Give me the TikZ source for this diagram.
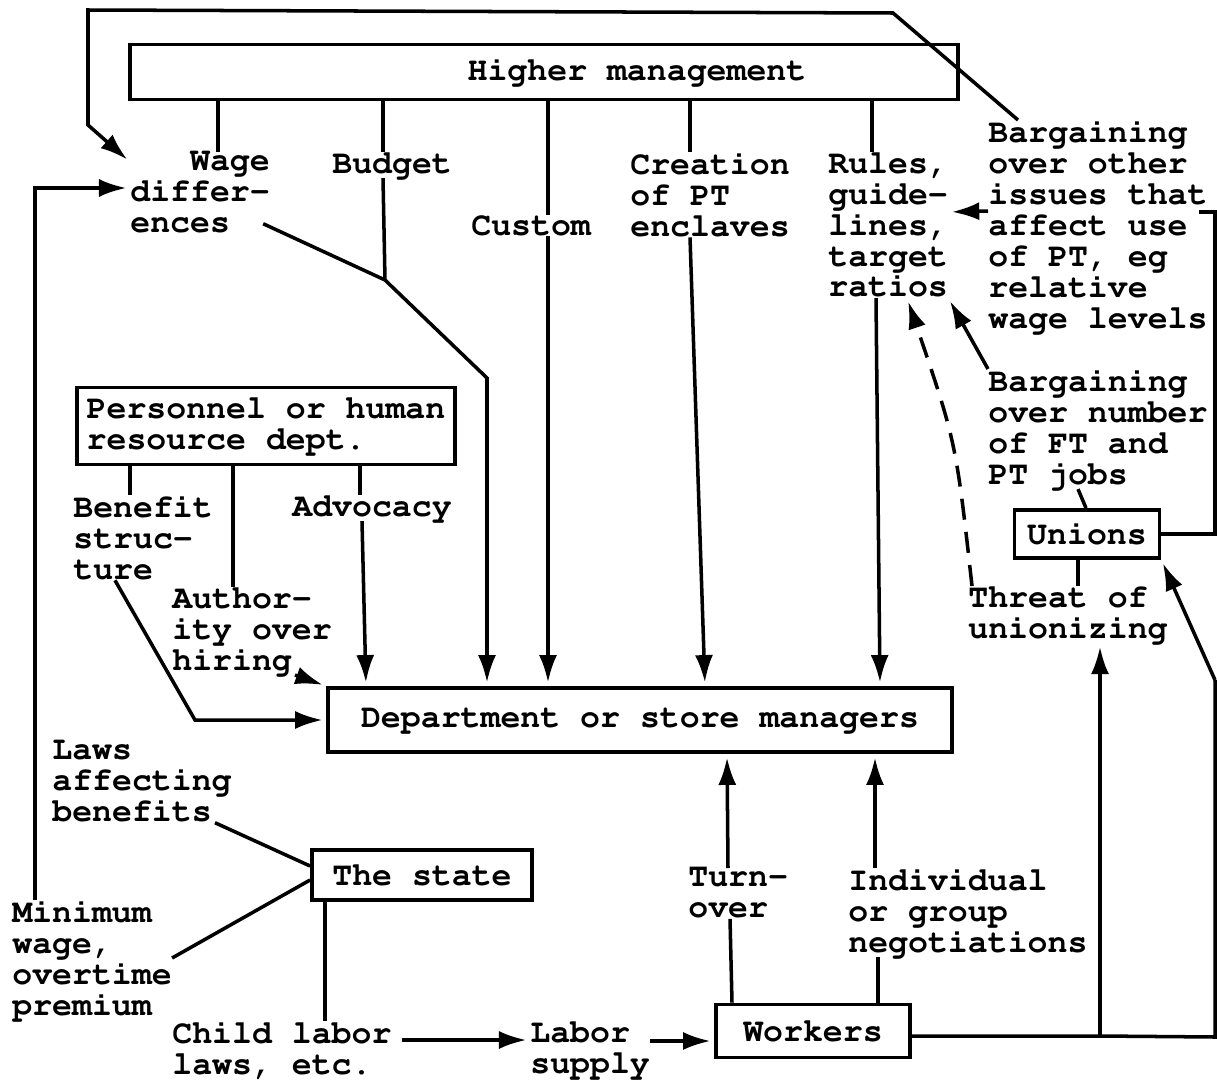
\documentclass[tikz,border=0pt]{standalone}
\usepackage[T1]{fontenc}
\renewcommand{\ttdefault}{pcr}
\usetikzlibrary{arrows.meta,positioning,calc}
\lineskiplimit=-20pt
\tikzset{
  box/.style={draw, line width=2.2pt, inner sep=0pt},
  lbl/.style={anchor=north west, align=left, inner sep=0pt},
  con/.style={line width=2pt},
  arr/.style={con, shorten >=2pt, -{Latex[length=0.55cm,width=0.36cm]}},
}
\begin{document}
\begin{tikzpicture}[x=0.02cm, y=-0.02cm, font=\fontsize{18.9}{17.6}\selectfont\ttfamily\bfseries]
\useasboundingbox (0,0) rectangle (1217,1082);
% boxes
\node[box, minimum width=16.56cm, minimum height=1.1cm] (hm) at (544,72) {\hspace{3.72cm}Higher management};
\node[box, minimum width=12.48cm, minimum height=1.28cm] (dm) at (640,720) {Department or store managers};
\node[box, minimum width=7.56cm, minimum height=1.54cm, align=left] (pers) at (266,426) {Personnel or human\\resource dept.};
\node[box, minimum width=2.9cm, minimum height=0.96cm] (un) at (1087,534) {Unions};
\node[box, minimum width=4.4cm, minimum height=1cm] (st) at (422,875) {The state};
\node[box, minimum width=3.88cm, minimum height=1.06cm] (wk) at (813,1031) {Workers};
% labels
\node[lbl] (wage) at (130,152) {\phantom{xxx}Wage\\differ-\\ences};
\node[lbl] (budget) at (332,152) {Budget};
\node[lbl] (custom) at (471,215) {Custom};
\node[lbl] (creation) at (630,152) {Creation\\of PT\\enclaves};
\node[lbl] (rules) at (828,152) {Rules,\\guide-\\lines,\\target\\ratios};
\node[lbl] (bargo) at (988,120) {Bargaining\\over other\\issues that\\affect use\\of PT, eg\\relative\\wage levels};
\node[lbl] (bargn) at (988,369) {Bargaining\\over number\\of FT and\\PT jobs};
\node[lbl] (threat) at (968,586) {Threat of\\unionizing};
\node[lbl] (benefit) at (73,495) {Benefit\\struc-\\ture};
\node[lbl] (advoc) at (292,495) {Advocacy};
\node[lbl] (author) at (172,587) {Author-\\ity over\\hiring};
\node[lbl] (laws) at (52,741) {Laws\\affecting\\benefits};
\node[lbl] (minw) at (12,900) {Minimum\\wage,\\overtime\\premium};
\node[lbl] (child) at (172,1021) {Child labor\\laws, etc.};
\node[lbl] (supply) at (530,1021) {Labor\\supply};
\node[lbl] (turn) at (688,868) {Turn-\\over};
\node[lbl] (indiv) at (848,868) {Individual\\or group\\negotiations};
\coordinate (merge) at (385,280);
\coordinate (wj) at (1100,1036);
% higher management
\draw[con] (hm.south -| 218,0) -- (wage.north -| 218,0);
\draw[con] (hm.south -| 383,0) -- (budget.north -| 383,0);
\draw[con] (hm.south -| 548,0) -- (custom.north -| 548,0);
\draw[con] (hm.south -| 690,0) -- (creation.north -| 690,0);
\draw[con] (hm.south -| 872,0) -- (rules.north -| 872,0);
\draw[con] (budget.south -| 383,0) -- (merge);
\draw[con] ([shift={(-7,-10)}]wage.south east) -- (merge);
\draw[arr] (merge) -- (487,378) -- (dm.north -| 487,0);
\draw[arr] (custom.south -| 548,0) -- (dm.north -| 548,0);
\draw[arr] (creation.south -| 690,0) -- (dm.north -| 705,0);
\draw[arr] (rules.south -| 876,0) -- (dm.north -| 880,0);
% loop over the top
\draw[arr] (bargo.north -| 1018,0) -- (893,13) -- (88,10) -- (88,125) -- ([yshift=-0.2cm]wage.north west);
\draw[arr] (minw.north -| 35,0) -- (35,188) -- (wage.west |- 0,188);
% unions side
\draw[arr] (bargo.west |- 0,211) -- (rules.east |- 0,212);
\draw[con] (un.east) -- (1215,534) -- (1215,212) -- (1199,212);
\draw[arr] (bargn.north west) -- (rules.south east);
\draw[con] (bargn.south -| 1078,0) -- (un.north -| 1086,0);
\draw[con] (un.south -| 1078,0) -- (threat.north -| 1078,0);
\draw[arr, dashed, dash pattern=on 12pt off 7pt] ([xshift=0.08cm]threat.north west) .. controls (956,442) .. (rules.south -| 907,0);
\draw[con] (wk.east |- wj) -- (wj) -- (1215,1037) -- (1215,680);
\draw[arr] (1215,680) -- (un.south east);
\draw[arr] (wj) -- (threat.south -| 1100,0);
% personnel
\draw[con] (pers.south -| 130,0) -- (benefit.north -| 130,0);
\draw[con] (pers.south -| 233,0) -- (author.north -| 233,0);
\draw[con] (pers.south -| 360,0) -- (advoc.north -| 360,0);
\draw[arr] (advoc.south -| 362,0) -- (dm.north -| 366,0);
\draw[arr] (author.south -| 295,0) -- (dm.north west);
\draw[arr] (benefit.south -| 115,0) -- (195,720) -- (dm.west);
% state
\draw[con] (laws.south -| 215,0) -- ([yshift=0.18cm]st.west);
\draw[con] ([yshift=-0.1cm]st.west) -- (minw.east |- 0,958);
\draw[con] (st.south -| 325,0) -- (child.north -| 325,0);
\draw[arr, shorten <=6pt] (child.north east |- 0,1040) -- (supply.west |- 0,1040);
\draw[arr] (supply.north east |- 0,1041) -- (wk.west |- 0,1041);
% workers
\draw[con] (wk.north -| 732,0) -- (turn.south -| 730,0);
\draw[arr] (turn.north -| 728,0) -- (dm.south -| 727,0);
\draw[con] (wk.north -| 878,0) -- (indiv.south -| 878,0);
\draw[arr] (indiv.north -| 875,0) -- (dm.south -| 875,0);
\end{tikzpicture}
\end{document}
